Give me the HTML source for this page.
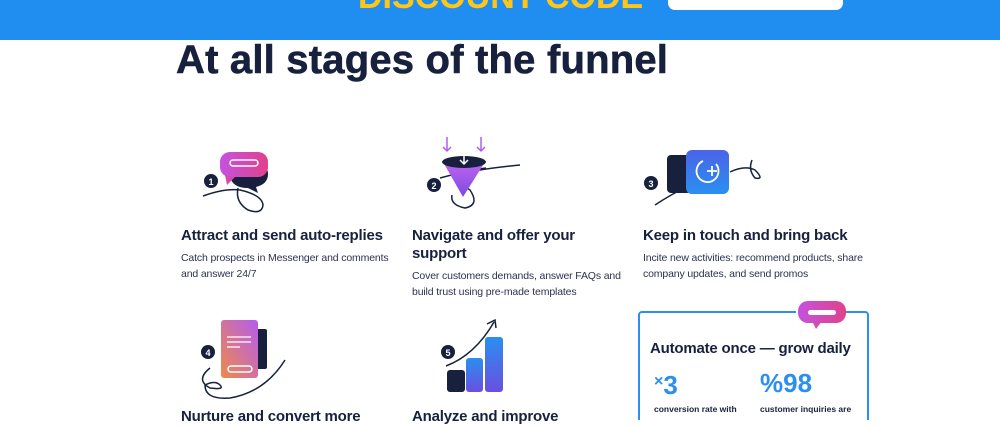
<!DOCTYPE html>
<html><head><meta charset="utf-8"><style>
body{margin:0;width:1000px;height:420px;overflow:hidden;background:#fff;font-family:"Liberation Sans",sans-serif;color:#17213d;position:relative}
.a{position:absolute}
h1{position:absolute;left:176px;top:38px;margin:0;font-size:40px;font-weight:900;letter-spacing:0.2px;color:#17213d;-webkit-text-stroke:0.6px #17213d}
.t{position:absolute;font-size:15px;font-weight:bold;line-height:18px;width:225px;letter-spacing:-0.2px}
.d{position:absolute;font-size:10.5px;line-height:16px;width:228px;color:#2a3350;letter-spacing:-0.15px}
</style></head><body>
<div class="a" style="left:0;top:0;width:1000px;height:40px;background:#208ef0"></div>
<div class="a" style="left:358px;top:-22px;font-size:34px;font-weight:900;color:#ffc61a;letter-spacing:0px">DISCOUNT CODE</div>
<div class="a" style="left:668px;top:-20px;width:175px;height:30px;background:#fff;border-radius:7px"></div>
<h1>At all stages of the funnel</h1>

<svg class="a" style="left:0;top:0" width="1000" height="420">
<defs>
<linearGradient id="g1" x1="0" x2="1"><stop offset="0" stop-color="#c452e0"/><stop offset="1" stop-color="#e0428a"/></linearGradient>
<linearGradient id="g2" x1="0" y1="0" x2="0" y2="1"><stop offset="0" stop-color="#c063f0"/><stop offset="1" stop-color="#7b4be0"/></linearGradient>
<linearGradient id="g3" x1="0" y1="0" x2="0" y2="1"><stop offset="0" stop-color="#4b63e8"/><stop offset="1" stop-color="#2a8ff0"/></linearGradient>
<linearGradient id="g4" x1="1" y1="0" x2="0" y2="1"><stop offset="0" stop-color="#b45cf0"/><stop offset="1" stop-color="#ee8a4a"/></linearGradient>
<linearGradient id="g5" x1="0" y1="0" x2="0" y2="1"><stop offset="0" stop-color="#2a8ff0"/><stop offset="1" stop-color="#6a4fe0"/></linearGradient>
</defs>
<g fill="none" stroke="#17213d" stroke-width="1.5">
<path d="M203 196 Q225 188 240 190 Q262 195 263 205 Q262 215 248 210 Q235 202 238 188"/>
<path d="M440 178 Q470 170 486 168"/>
<path d="M655 205 Q670 195 690 185"/>
<path d="M730 172 Q745 165 755 170 Q765 180 755 178 Q748 170 752 160"/>
<path d="M210 368 Q195 380 210 388 Q225 390 220 385 Q215 380 205 385 Q205 400 230 398 Q265 392 285 360"/>
</g>
<path d="M246 160 q22 0 22 14 q0 10 -12 13 l2 6 -10 -5 q-16 0 -18 -12 z" fill="#17213d"/>
<rect x="220" y="152" width="48" height="25" rx="10" fill="url(#g1)"/>
<path d="M225 175 l2 10 8 -8z" fill="#d24cb0"/>
<rect x="230" y="160" width="28" height="6" rx="3" fill="none" stroke="#fff" stroke-width="1.5"/>
<circle cx="211" cy="181" r="7" fill="#17213d"/><text x="211" y="185" font-size="9" font-weight="bold" fill="#fff" text-anchor="middle">1</text>
<path d="M452 195 Q450 205 465 208 Q480 205 470 190 Q455 180 460 175 Q470 170 520 165" fill="none" stroke="#17213d" stroke-width="1.5"/>
<path d="M443 162 L485 162 L463 197 z" fill="url(#g2)"/>
<ellipse cx="464" cy="162" rx="22" ry="6" fill="#17213d"/>
<g stroke="#b45cf0" stroke-width="1.5" fill="none"><path d="M447 137 v14 M443 147 l4 4 4-4 M481 137 v14 M477 147 l4 4 4-4"/></g>
<g stroke="#fff" stroke-width="1.5" fill="none"><path d="M464 152 v12 M460 160 l4 4 4-4"/></g>
<circle cx="434" cy="185" r="7" fill="#17213d"/><text x="434" y="189" font-size="9" font-weight="bold" fill="#fff" text-anchor="middle">2</text>
<rect x="667" y="155" width="24" height="38" rx="4" fill="#17213d"/>
<rect x="686" y="150" width="43" height="44" rx="6" fill="url(#g3)"/>
<path d="M716 164 A11 11 0 1 1 703 161" fill="none" stroke="#fff" stroke-width="1.8"/>
<path d="M707 171 h10 M712 166 v10" stroke="#fff" stroke-width="1.8"/>
<circle cx="651" cy="183" r="7" fill="#17213d"/><text x="651" y="187" font-size="9" font-weight="bold" fill="#fff" text-anchor="middle">3</text>
<rect x="255" y="329" width="12" height="40" rx="2" fill="#17213d"/>
<rect x="221" y="320" width="37" height="58" rx="3" fill="url(#g4)"/>
<g stroke="#fff" stroke-width="1.3"><path d="M227 337 h24 M227 342 h24 M227 347 h13"/></g>
<rect x="228" y="366" width="24" height="6" rx="3" fill="none" stroke="#fff" stroke-width="1.5"/>
<circle cx="208" cy="352" r="7" fill="#17213d"/><text x="208" y="356" font-size="9" font-weight="bold" fill="#fff" text-anchor="middle">4</text>
<rect x="447" y="370" width="18" height="22" rx="3" fill="#17213d"/>
<rect x="466" y="358" width="17" height="34" rx="3" fill="url(#g5)"/>
<rect x="485" y="337" width="18" height="55" rx="3" fill="url(#g5)"/>
<path d="M446 366 Q475 355 494 322" fill="none" stroke="#17213d" stroke-width="1.5"/>
<path d="M487 324 l8 -4 1 8" fill="none" stroke="#17213d" stroke-width="1.5"/>
<circle cx="448" cy="352" r="7" fill="#17213d"/><text x="448" y="356" font-size="9" font-weight="bold" fill="#fff" text-anchor="middle">5</text>
<rect x="639" y="312" width="229" height="120" rx="3" fill="none" stroke="#2a8ff0" stroke-width="2"/>
<rect x="796" y="306" width="50" height="24" fill="#fff"/>
<rect x="798" y="301" width="48" height="22" rx="10" fill="url(#g1)"/>
<path d="M812 321 l4 8 6-8z" fill="#d24cb0"/>
<rect x="808" y="310" width="28" height="5" rx="2.5" fill="#fff"/>
</svg>

<div class="t" style="left:181px;top:227px">Attract and send auto-replies</div>
<div class="d" style="left:181px;top:250px;width:225px">Catch prospects in Messenger and comments and answer 24/7</div>
<div class="t" style="left:412px;top:227px;width:190px">Navigate and offer your support</div>
<div class="d" style="left:412px;top:268px;width:222px">Cover customers demands, answer FAQs and build trust using pre-made templates</div>
<div class="t" style="left:643px;top:227px">Keep in touch and bring back</div>
<div class="d" style="left:643px;top:250px;width:222px">Incite new activities: recommend products, share company updates, and send promos</div>
<div class="t" style="left:181px;top:408px">Nurture and convert more</div>
<div class="t" style="left:412px;top:408px">Analyze and improve</div>
<div class="t" style="left:650px;top:340px;width:230px">Automate once — grow daily</div>
<div class="a" style="left:654px;top:370px;font-size:26px;font-weight:bold;color:#2a8ff0"><span style="font-size:16px;vertical-align:8px">×</span>3</div>
<div class="a" style="left:760px;top:368px;font-size:26px;font-weight:bold;color:#2a8ff0">%98</div>
<div class="a" style="left:654px;top:404px;font-size:8.5px;font-weight:bold">conversion rate with</div>
<div class="a" style="left:760px;top:404px;font-size:8.5px;font-weight:bold">customer inquiries are</div>
</body></html>
